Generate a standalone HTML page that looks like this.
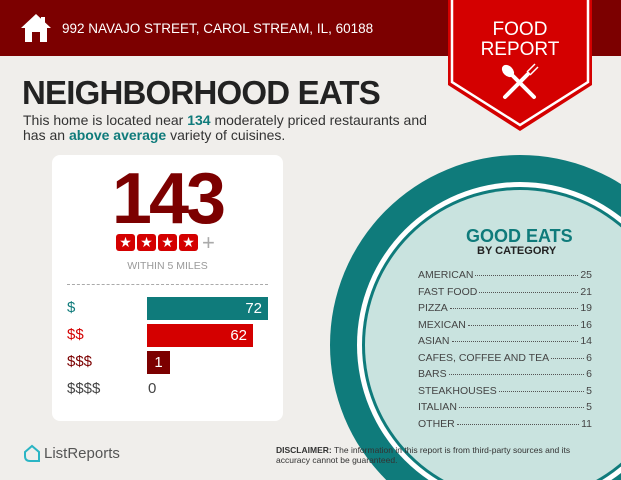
<!DOCTYPE html>
<html><head><style>
body{margin:0;width:621px;height:480px;overflow:hidden;background:#f0eeeb;font-family:"Liberation Sans",sans-serif;position:relative}
.a{position:absolute}
.row{position:absolute;left:418px;width:174px;font-size:10.5px;color:#444;display:flex;align-items:baseline}
.row .d{flex:1;border-bottom:1px dotted #555;margin:0 2px;height:0;position:relative;top:-2px}
</style></head><body>
<div class="a" style="left:0;top:0;width:621px;height:56px;background:#7c0000"></div>
<svg class="a" style="left:20px;top:13px" width="32" height="30" viewBox="0 0 32 30"><path d="M16 1 L31 15 L27 15 L27 29 L20 29 L20 19 L12 19 L12 29 L5 29 L5 15 L1 15 Z" fill="#fff"/><rect x="21" y="4" width="4" height="7" fill="#fff"/></svg>
<div class="a" style="left:62px;top:21px;color:#fff;font-size:13.5px">992 NAVAJO STREET, CAROL STREAM, IL, 60188</div>
<svg class="a" style="left:0;top:0" width="621" height="480">
<circle cx="520" cy="345" r="190" fill="#0f7b7b"/>
<circle cx="520" cy="345" r="163" fill="#fff"/>
<circle cx="520" cy="345" r="158" fill="#0f7b7b"/>
<circle cx="520" cy="345" r="155" fill="#c9e3df"/>
<path d="M448 0 L592 0 L592 85 L520 131 L448 85 Z" fill="#d40000"/>
<path d="M452 0 L452 82 L520 125 L588 82 L588 0" fill="none" stroke="#fff" stroke-width="2.5"/>
<g stroke="#fff" stroke-width="4" stroke-linecap="round"><line x1="505" y1="97" x2="528" y2="74"/><line x1="534" y1="97" x2="512" y2="75"/></g>
<ellipse cx="508" cy="71" rx="5" ry="7" transform="rotate(-45 508 71)" fill="#fff"/>
<path d="M527 72 l8-8 M530 75 l8-8" stroke="#fff" stroke-width="1.5"/>
</svg>
<div class="a" style="left:448px;top:20px;width:144px;text-align:center;color:#fff;font-size:19px;line-height:20px">FOOD<br>REPORT</div>
<div class="a" style="left:22px;top:74px;font-size:33px;font-weight:bold;color:#222;letter-spacing:-0.8px">NEIGHBORHOOD EATS</div>
<div class="a" style="left:23px;top:113px;font-size:14px;line-height:15px;color:#333">This home is located near <b style="color:#0f7b7b">134</b> moderately priced restaurants and<br>has an <b style="color:#0f7b7b">above average</b> variety of cuisines.</div>
<div class="a" style="left:52px;top:155px;width:231px;height:266px;background:#fff;border-radius:8px"></div>
<div class="a" style="left:52px;top:161px;width:231px;text-align:center;font-size:72px;font-weight:bold;color:#7c0000;letter-spacing:-3px;line-height:76px">143</div>
<div class="a" style="left:116px;top:234px;display:flex;gap:2px">
<span style="width:19px;height:17px;background:#d40000;border-radius:3px;color:#fff;font-size:14px;text-align:center;line-height:17px">★</span><span style="width:19px;height:17px;background:#d40000;border-radius:3px;color:#fff;font-size:14px;text-align:center;line-height:17px">★</span><span style="width:19px;height:17px;background:#d40000;border-radius:3px;color:#fff;font-size:14px;text-align:center;line-height:17px">★</span><span style="width:19px;height:17px;background:#d40000;border-radius:3px;color:#fff;font-size:14px;text-align:center;line-height:17px">★</span><span style="color:#aaa;font-size:22px;line-height:17px;margin-left:2px">+</span></div>
<div class="a" style="left:52px;top:260px;width:231px;text-align:center;font-size:10.5px;color:#999">WITHIN 5 MILES</div>
<div class="a" style="left:67px;top:284px;width:201px;border-top:1px dashed #aaa"></div>
<div class="a" style="left:67px;top:299px;font-size:15px;color:#0f7b7b">$</div>
<div class="a" style="left:67px;top:326px;font-size:15px;color:#d40000">$$</div>
<div class="a" style="left:67px;top:353px;font-size:15px;color:#7c0000">$$$</div>
<div class="a" style="left:67px;top:380px;font-size:15px;color:#444">$$$$</div>
<div class="a" style="left:147px;top:297px;width:121px;height:23px;background:#0f7b7b;color:#fff;font-size:15px;text-align:right;box-sizing:border-box;padding-right:6px;line-height:23px">72</div>
<div class="a" style="left:147px;top:324px;width:106px;height:23px;background:#d40000;color:#fff;font-size:15px;text-align:right;box-sizing:border-box;padding-right:6px;line-height:23px">62</div>
<div class="a" style="left:147px;top:351px;width:23px;height:23px;background:#7c0000;color:#fff;font-size:15px;text-align:center;line-height:23px">1</div>
<div class="a" style="left:148px;top:380px;font-size:15px;color:#444">0</div>
<div class="a" style="left:466px;top:226px;font-size:18px;font-weight:bold;color:#0f7b7b">GOOD EATS</div>
<div class="a" style="left:477px;top:245px;font-size:11px;font-weight:bold;color:#222">BY CATEGORY</div>
<div class="row" style="top:269px">AMERICAN<span class="d"></span>25</div>
<div class="row" style="top:286px">FAST FOOD<span class="d"></span>21</div>
<div class="row" style="top:302px">PIZZA<span class="d"></span>19</div>
<div class="row" style="top:319px">MEXICAN<span class="d"></span>16</div>
<div class="row" style="top:335px">ASIAN<span class="d"></span>14</div>
<div class="row" style="top:352px">CAFES, COFFEE AND TEA<span class="d"></span>6</div>
<div class="row" style="top:368px">BARS<span class="d"></span>6</div>
<div class="row" style="top:385px">STEAKHOUSES<span class="d"></span>5</div>
<div class="row" style="top:401px">ITALIAN<span class="d"></span>5</div>
<div class="row" style="top:418px">OTHER<span class="d"></span>11</div>
<svg class="a" style="left:23px;top:444px" width="18" height="19" viewBox="0 0 18 19"><path d="M2 8 L9 2 L16 8 L16 17 L7 17 Q2 17 2 12 Z" fill="none" stroke="#2bb5c4" stroke-width="2"/></svg>
<div class="a" style="left:44px;top:445px;font-size:15px;color:#555">ListReports</div>
<div class="a" style="left:276px;top:445px;font-size:8.5px;line-height:10px;color:#333"><b>DISCLAIMER:</b> The information in this report is from third-party sources and its<br>accuracy cannot be guaranteed.</div>
</body></html>
